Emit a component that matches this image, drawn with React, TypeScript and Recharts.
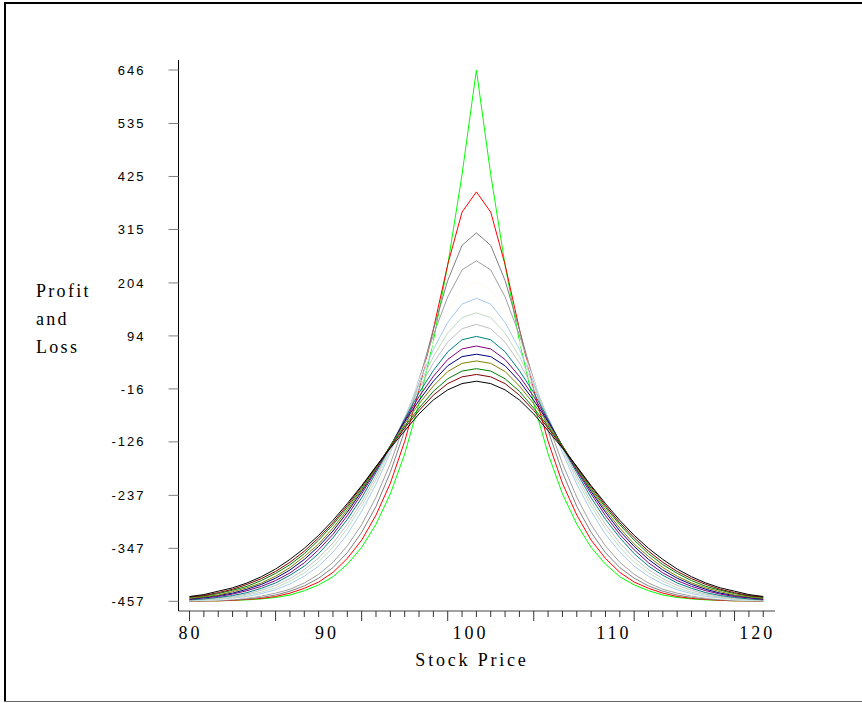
import React from 'react';
import { LineChart, Line, XAxis, YAxis, Label } from 'recharts';

const prices = [80, 81, 82, 83, 84, 85, 86, 87, 88, 89, 90, 91, 92, 93, 94, 95, 96, 97, 98, 99, 100, 101, 102, 103, 104, 105, 106, 107, 108, 109, 110, 111, 112, 113, 114, 115, 116, 117, 118, 119, 120];
const xTickLabels = [80, 90, 100, 110, 120];
const yTicks = [646, 535, 425, 315, 204, 94, -16, -126, -237, -347, -457];

const green = [-457,-456,-456,-455,-454,-452,-449,-444,-435,-423,-406,-380,-345,-297,-234,-151,-46,83,241,429,646,429,241,83,-46,-151,-234,-297,-345,-380,-406,-423,-435,-444,-449,-452,-454,-455,-456,-456,-457];
const red = [-457,-456,-456,-455,-453,-451,-447,-440,-430,-417,-397,-368,-330,-278,-212,-125,-18,108,242,351,393,351,242,108,-18,-125,-212,-278,-330,-368,-397,-417,-430,-440,-447,-451,-453,-455,-456,-456,-457];
const gray = [-456,-456,-455,-454,-452,-449,-444,-436,-425,-409,-387,-356,-314,-260,-189,-103,-1,107,209,282,308,282,209,107,-1,-103,-189,-260,-314,-356,-387,-409,-425,-436,-444,-449,-452,-454,-455,-456,-456];
const mediumGray = [-456,-456,-455,-453,-450,-446,-440,-432,-419,-401,-376,-342,-298,-241,-171,-88,4,96,175,231,250,231,175,96,4,-88,-171,-241,-298,-342,-376,-401,-419,-432,-440,-446,-450,-453,-455,-456,-456];
const cream = [-456,-455,-454,-452,-449,-444,-437,-426,-412,-392,-365,-329,-284,-226,-158,-79,1,81,146,191,206,191,146,81,1,-79,-158,-226,-284,-329,-365,-392,-412,-426,-437,-444,-449,-452,-454,-455,-456];
const skyBlue = [-455,-454,-453,-450,-447,-441,-433,-421,-405,-384,-355,-318,-270,-214,-148,-76,-3,66,122,160,172,160,122,66,-3,-76,-148,-214,-270,-318,-355,-384,-405,-421,-433,-441,-447,-450,-453,-454,-455];
const moneyGreen = [-455,-454,-452,-449,-444,-438,-429,-415,-398,-375,-345,-306,-259,-205,-141,-76,-9,51,100,132,142,132,100,51,-9,-76,-141,-205,-259,-306,-345,-375,-398,-415,-429,-438,-444,-449,-452,-454,-455];
const silver = [-454,-453,-450,-447,-442,-434,-424,-410,-391,-367,-336,-297,-251,-197,-138,-77,-16,38,81,109,118,109,81,38,-16,-77,-138,-197,-251,-297,-336,-367,-391,-410,-424,-434,-442,-447,-450,-453,-454];
const teal = [-454,-452,-449,-445,-439,-430,-419,-403,-384,-358,-325,-287,-242,-190,-136,-79,-24,22,61,86,93,86,61,22,-24,-79,-136,-190,-242,-287,-325,-358,-384,-403,-419,-430,-439,-445,-449,-452,-454];
const purple = [-453,-450,-447,-442,-435,-426,-414,-398,-377,-350,-318,-279,-234,-186,-135,-82,-32,10,45,67,73,67,45,10,-32,-82,-135,-186,-234,-279,-318,-350,-377,-398,-414,-426,-435,-442,-447,-450,-453];
const navy = [-452,-449,-445,-440,-432,-422,-409,-392,-370,-343,-311,-272,-229,-183,-134,-84,-40,0,32,51,56,51,32,0,-40,-84,-134,-183,-229,-272,-311,-343,-370,-392,-409,-422,-432,-440,-445,-449,-452];
const olive = [-451,-448,-444,-437,-429,-419,-405,-387,-364,-338,-305,-267,-226,-182,-134,-88,-47,-10,20,37,42,37,20,-10,-47,-88,-134,-182,-226,-267,-305,-338,-364,-387,-405,-419,-429,-437,-444,-448,-451];
const darkGreen = [-449,-446,-441,-434,-426,-414,-399,-381,-358,-330,-298,-262,-223,-179,-135,-93,-56,-21,5,21,26,21,5,-21,-56,-93,-135,-179,-223,-262,-298,-330,-358,-381,-399,-414,-426,-434,-441,-446,-449];
const maroon = [-448,-445,-439,-432,-422,-410,-395,-376,-353,-325,-294,-258,-219,-178,-137,-97,-61,-29,-5,9,14,9,-5,-29,-61,-97,-137,-178,-219,-258,-294,-325,-353,-376,-395,-410,-422,-432,-439,-445,-448];
const black = [-447,-443,-436,-429,-419,-406,-390,-370,-347,-320,-289,-254,-217,-177,-139,-103,-68,-39,-18,-5,0,-5,-18,-39,-68,-103,-139,-177,-217,-254,-289,-320,-347,-370,-390,-406,-419,-429,-436,-443,-447];

const seriesKeys = ['green', 'red', 'gray', 'mediumGray', 'cream', 'skyBlue', 'moneyGreen', 'silver', 'teal', 'purple', 'navy', 'olive', 'darkGreen', 'maroon', 'black'];
const seriesValues = [green, red, gray, mediumGray, cream, skyBlue, moneyGreen, silver, teal, purple, navy, olive, darkGreen, maroon, black];
const seriesColors = ['#00FF00', '#FF0000', '#808080', '#A0A0A4', '#FFFBF0', '#A6CAF0', '#C0DCC0', '#C0C0C0', '#008080', '#800080', '#000080', '#808000', '#008000', '#800000', '#000000'];

const data = prices.map((p, i) => {
  const row: Record<string, number> = { price: p };
  seriesKeys.forEach((k, j) => {
    row[k] = seriesValues[j][i];
  });
  return row;
});

const majorTickIndex = [0, 6, 12, 18, 24, 31, 38];

const XTick = (props: any) => {
  const { x, y, payload, index } = props;
  const v = payload.value;
  const len = majorTickIndex.includes(index) ? 10 : 6;
  const showLabel = xTickLabels.includes(v);
  return (
    <g>
      <line x1={x} y1={y} x2={x} y2={y + len} stroke="#333" strokeWidth={1} />
      {showLabel && (
        <text
          x={x + (v === 80 ? 1 : -6)}
          y={y + 28}
          textAnchor="middle"
          fontFamily="Liberation Serif"
          fontSize={18}
          letterSpacing={3}
          fill="#000"
        >
          {v}
        </text>
      )}
    </g>
  );
};

const XTitle = () => (
  <text x={472} y={666} textAnchor="middle" fontFamily="Liberation Serif" fontSize={18} letterSpacing={2.8} fill="#000">
    Stock Price
  </text>
);

const YTitle = () => (
  <text fontFamily="Liberation Serif" fontSize={18} letterSpacing={2.3} fill="#000">
    <tspan x={36} y={297}>Profit</tspan>
    <tspan x={36} y={325}>and</tspan>
    <tspan x={36} y={353}>Loss</tspan>
  </text>
);

export default function App() {
  return (
    <div style={{ position: 'absolute', left: 0, top: 0, width: 862, height: 703, background: '#fff' }}>
      <div style={{ position: 'absolute', left: 4, top: 2, width: 858, height: 2, background: '#000' }} />
      <div style={{ position: 'absolute', left: 4, top: 2, width: 2, height: 700, background: '#000' }} />
      <div style={{ position: 'absolute', left: 4, top: 701, width: 858, height: 1, background: '#666' }} />
      <div style={{ position: 'absolute', left: 0, top: 0 }}>
        <LineChart width={862} height={703} data={data} margin={{ top: 60, right: 87, bottom: 32, left: 0 }}>
          <XAxis
            dataKey="price"
            type="number"
            domain={[79.23, 120.82]}
            ticks={prices}
            interval={0}
            tickSize={0}
            tickMargin={0}
            tickLine={false}
            tick={XTick}
            axisLine={{ stroke: '#444' }}
            height={60}
            allowDataOverflow
          >
            <Label content={XTitle} />
          </XAxis>
          <YAxis
            type="number"
            domain={[-477.1, 666.8]}
            ticks={yTicks}
            interval={0}
            width={178.5}
            tickSize={10}
            tickMargin={23}
            tick={{ fontFamily: 'Liberation Sans', fontSize: 13, fill: '#000', letterSpacing: 2 }}
            tickLine={{ stroke: '#808080' }}
            axisLine={{ stroke: '#000' }}
            allowDataOverflow
          >
            <Label content={YTitle} />
          </YAxis>
          {seriesKeys.map((k, j) => (
            <Line
              key={k}
              dataKey={k}
              type="linear"
              stroke={seriesColors[j]}
              strokeWidth={1}
              dot={false}
              activeDot={false}
              isAnimationActive={false}
            />
          ))}
        </LineChart>
      </div>
    </div>
  );
}
